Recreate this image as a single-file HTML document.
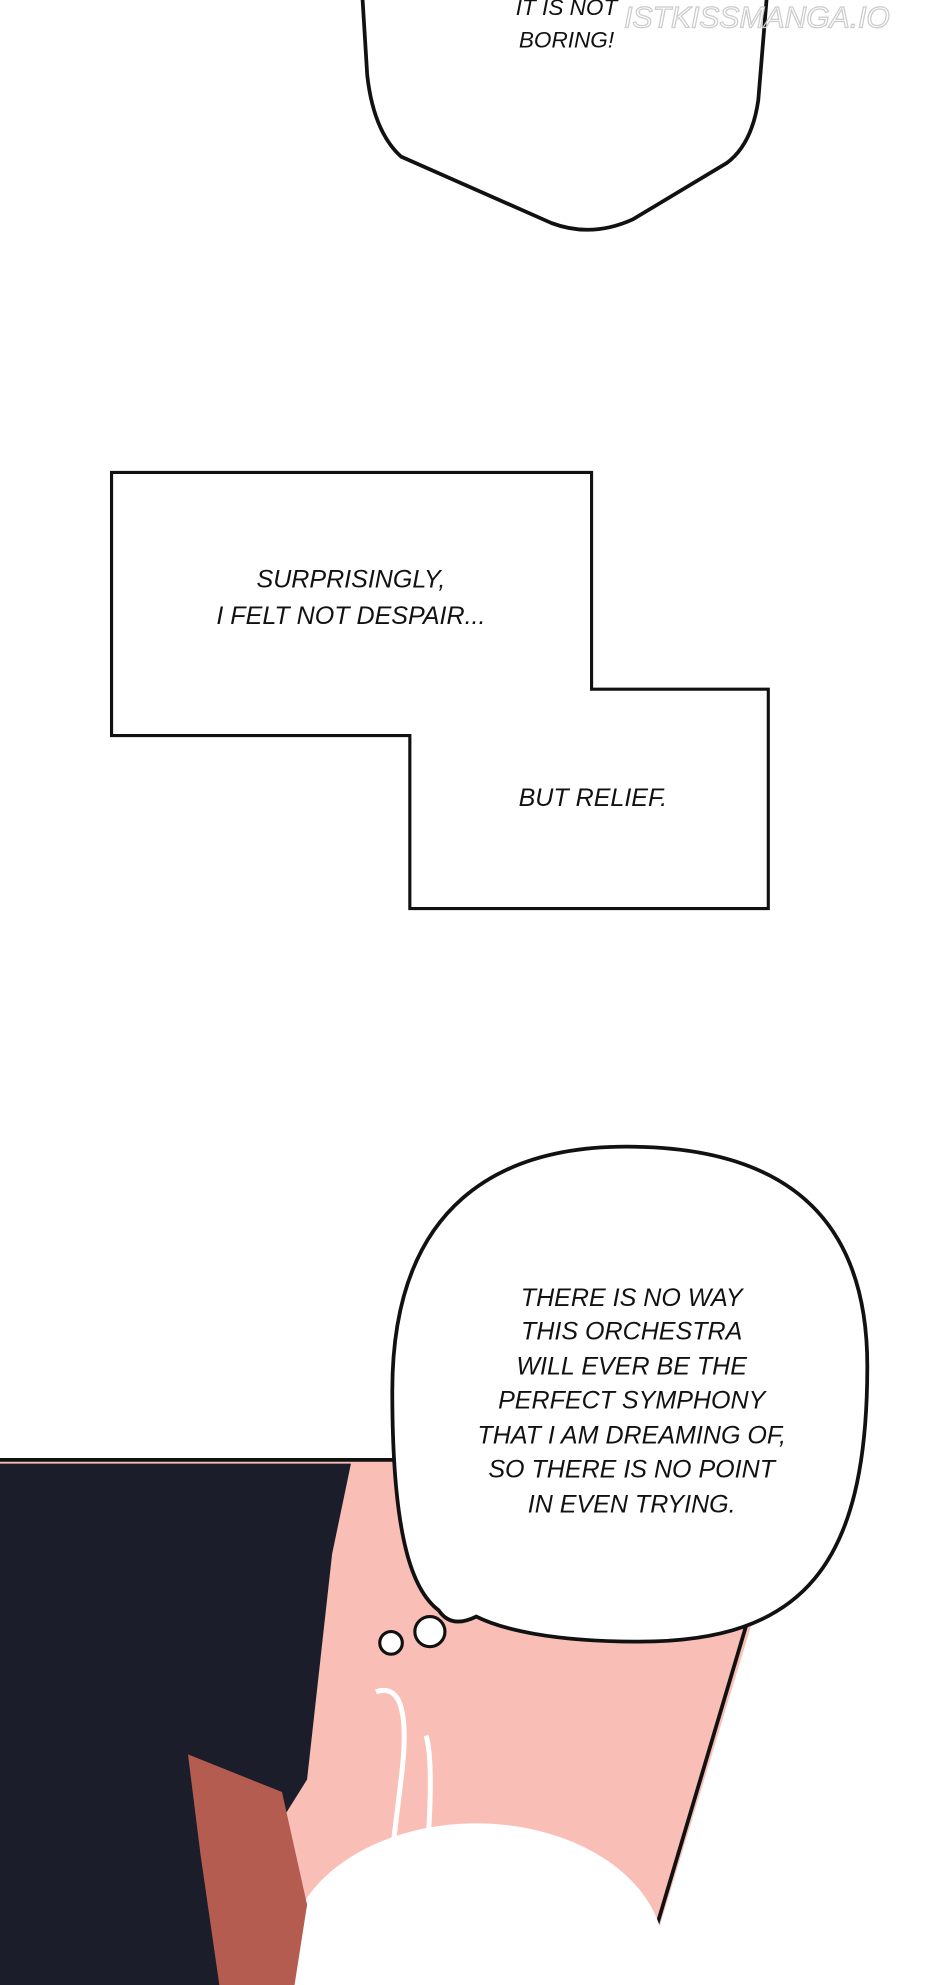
<!DOCTYPE html>
<html><head><meta charset="utf-8"><style>
html,body{margin:0;padding:0;background:#fff;width:940px;height:1985px;overflow:hidden;}
svg{display:block;}
text{font-family:"Liberation Sans",sans-serif;font-style:italic;fill:#111;}
</style></head><body>
<svg width="940" height="1985" viewBox="0 0 750 1584" preserveAspectRatio="none" xmlns="http://www.w3.org/2000/svg">
<rect width="750" height="1584" fill="#fff"/>
<path d="M289,-5 L293,60 Q298,105 320,125 L440,178 Q472,190 505,175 L580,130 Q600,115 605,80 L612,-5" fill="#fff" stroke="#111" stroke-width="3"/>
<text x="452" y="12" font-size="18" text-anchor="middle">IT IS NOT</text>
<text x="452" y="38" font-size="18" text-anchor="middle">BORING!</text>
<text x="604" y="22" font-size="24" text-anchor="middle" stroke="#ccc" stroke-width="1" style="fill:none">ISTKISSMANGA.IO</text>
<path d="M89,377 L472,377 L472,550 L613,550 L613,725 L327,725 L327,587 L89,587 Z" fill="#fff" stroke="#111" stroke-width="2.5"/>
<text x="280" y="469" font-size="20" text-anchor="middle">SURPRISINGLY,</text>
<text x="280" y="498" font-size="20" text-anchor="middle">I FELT NOT DESPAIR...</text>
<text x="473" y="643" font-size="20" text-anchor="middle">BUT RELIEF.</text>
<rect x="0" y="1165" width="600" height="420" fill="#f9beb6"/>
<path d="M598,1165 L600,1295 L512,1584 L750,1584 L750,1165 Z" fill="#fff"/>
<line x1="0" y1="1165" x2="320" y2="1165" stroke="#111" stroke-width="3"/>
<line x1="596" y1="1295" x2="510" y2="1584" stroke="#111" stroke-width="3"/>
<ellipse cx="380" cy="1560" rx="150" ry="105" fill="#fff"/>
<path d="M0,1168 L280,1168 L265,1240 L245,1420 L220,1460 L245,1520 L230,1584 L0,1584 Z" fill="#1c1d2a"/>
<path d="M150,1400 L225,1430 L245,1520 L235,1584 L175,1584 L160,1480 Z" fill="#b55c50"/>
<path d="M300,1350 Q330,1340 320,1420 L300,1584" fill="none" stroke="#fff" stroke-width="4"/>
<path d="M340,1385 Q350,1420 330,1584" fill="none" stroke="#fff" stroke-width="4"/>
<path d="M500,915 C600,915 692,950 692,1090 C692,1250 640,1310 510,1310 C440,1310 400,1300 380,1290 Q360,1300 350,1285 C330,1270 313,1230 313,1110 C313,960 400,915 500,915 Z" fill="#fff" stroke="#111" stroke-width="3"/>
<circle cx="312" cy="1311" r="9" fill="#fff" stroke="#111" stroke-width="2.5"/>
<circle cx="343" cy="1302" r="12" fill="#fff" stroke="#111" stroke-width="2.5"/>
<g font-size="20" text-anchor="middle">
<text x="504" y="1042">THERE IS NO WAY</text>
<text x="504" y="1069">THIS ORCHESTRA</text>
<text x="504" y="1097">WILL EVER BE THE</text>
<text x="504" y="1124">PERFECT SYMPHONY</text>
<text x="504" y="1152">THAT I AM DREAMING OF,</text>
<text x="504" y="1179">SO THERE IS NO POINT</text>
<text x="504" y="1207">IN EVEN TRYING.</text>
</g>
</svg>
</body></html>
